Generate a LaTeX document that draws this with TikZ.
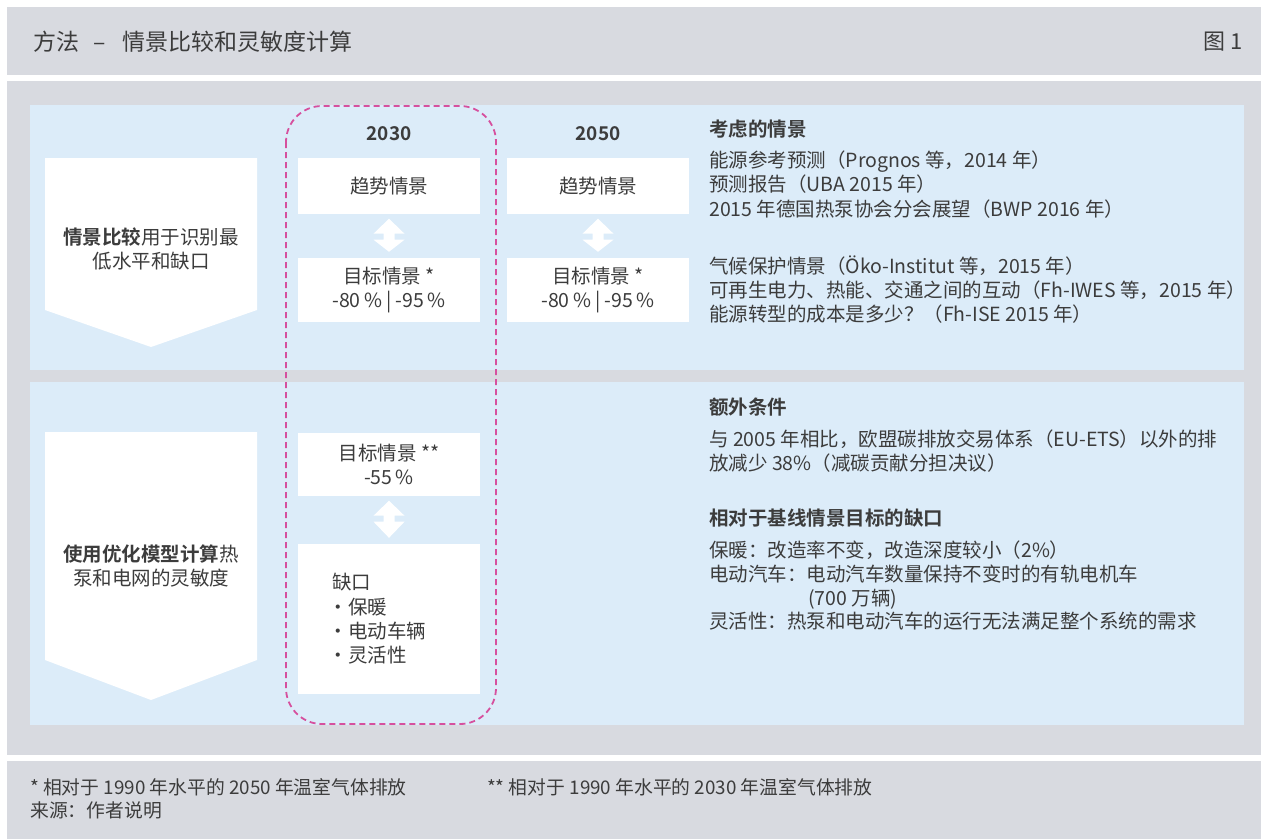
\documentclass[tikz,border=0pt]{standalone}
\usepackage{fontspec}
\setmainfont{Noto Sans CJK SC}[BoldFont={Noto Sans CJK SC Bold}]
\usetikzlibrary{calc}
\definecolor{bggray}{RGB}{216,218,224}
\definecolor{lblue}{RGB}{220,236,249}
\definecolor{txtc}{RGB}{60,60,60}
\definecolor{dashc}{RGB}{214,80,158}
\tikzset{
  panel/.style={fill=lblue, draw=none},
  wbox/.style={fill=white, draw=none, minimum width=182pt, inner sep=0pt, align=center, text=txtc, font=\fontsize{19.5}{24}\selectfont},
  yearlab/.style={font=\fontsize{19}{22}\selectfont\bfseries, text=txtc, inner sep=0pt},
  txt/.style={anchor=west, inner sep=0pt, text=txtc, font=\fontsize{19.5}{23}\selectfont, text height=14pt, text depth=3.5pt},
  hd/.style={txt, font=\fontsize{19.5}{23}\selectfont\bfseries},
  foot/.style={anchor=west, inner sep=0pt, text=txtc, font=\fontsize{18.8}{22}\selectfont, text height=13.5pt, text depth=3.5pt},
  penta/.style={fill=white, draw=none},
  ptext/.style={align=center, inner sep=0pt, text=txtc, font=\fontsize{19.5}{24.5}\selectfont},
  dblarrow/.style={fill=white, draw=none},
}
\newcommand{\dbl}[2]{%
  \path let \p1=($(#1.south)+(0,4.5)$), \p2=($(#2.north)-(0,6)$) in
    [dblarrow] (\x1,\y1) -- (\x1+15.5,\y1-15) -- (\x1+5.5,\y1-15) -- (\x1+5.5,\y1-21) -- (\x1+15.5,\y1-21)
    -- (\x2,\y2) -- (\x1-15.5,\y1-21) -- (\x1-5.5,\y1-21) -- (\x1-5.5,\y1-15) -- (\x1-15.5,\y1-15) -- cycle;}
\begin{document}
\begin{tikzpicture}[x=1pt,y=-1pt]
\useasboundingbox (0,0) rectangle (1261,839);
\fill[white] (0,0) rectangle (1261,839);
% header
\fill[bggray] (7,7) rectangle (1261,75);
\node[anchor=west, inner sep=0pt, text=txtc, font=\fontsize{23}{26}\selectfont] (title) at (33,42) {方法\hspace{14pt}–\hspace{17pt}情景比较和灵敏度计算};
\node[anchor=east, inner sep=0pt, text=txtc, font=\fontsize{22}{26}\selectfont] (fig) at (1243,42) {图 1};
% main
\fill[bggray] (7,81) rectangle (1261,755);
\fill[panel] (30,105) rectangle (1244,370);
\fill[panel] (30,382) rectangle (1244,725);
% pentagon arrows
\fill[penta] (45,158) -- (257,158) -- (257,310) -- (151,347) -- (45,310) -- cycle;
\fill[penta] (45,432) -- (257,432) -- (257,660) -- (151,700) -- (45,660) -- cycle;
\node[ptext] (a1) at (151,249) {\textbf{情景比较}用于识别最\\低水平和缺口};
\node[ptext] (a2) at (151,566) {\textbf{使用优化模型计算}热\\泵和电网的灵敏度};
% dashed frame
\draw[dashc, line width=1.8pt, dash pattern=on 6pt off 4pt, rounded corners=36pt] (286,106) rectangle (496,724);
% years
\node[yearlab] (y30) at (389,134) {2030};
\node[yearlab] (y50) at (598,134) {2050};
% boxes
\node[wbox, minimum height=56pt] (b1) at (389,186) {趋势情景};
\node[wbox, minimum height=64pt] (b2) at (389,290) {目标情景 *\\-80\,\% | -95\,\%};
\node[wbox, minimum height=56pt] (c1) at (598,186) {趋势情景};
\node[wbox, minimum height=64pt] (c2) at (598,290) {目标情景 *\\-80\,\% | -95\,\%};
\node[wbox, minimum height=63pt] (b3) at (389,464.5) {目标情景 **\\-55\,\%};
\node[wbox, minimum height=150pt] (b4) at (389,619) {};
\node[anchor=west, align=left, inner sep=0pt, text=txtc, font=\fontsize{19.5}{24.3}\selectfont] (gap) at (328,619)
 {\hspace{4pt}缺口\\\makebox[20pt][l]{·}保暖\\\makebox[20pt][l]{·}电动车辆\\\makebox[20pt][l]{·}灵活性};
\dbl{b1}{b2}
\dbl{c1}{c2}
\dbl{b3}{b4}
% right text upper
\node[hd] (h1) at (709,131) {考虑的情景};
\node[txt] (r1) at (709,162) {能源参考预测（Prognos 等，2014 年）};
\node[txt] (r2) at (709,186) {预测报告（UBA 2015 年）};
\node[txt] (r3) at (709,211) {2015 年德国热泵协会分会展望（BWP 2016 年）};
\node[txt] (r4) at (709,268) {气候保护情景（Öko-Institut 等，2015 年）};
\node[txt] (r5) at (709,292) {可再生电力、热能、交通之间的互动（Fh-IWES 等，2015 年）};
\node[txt] (r6) at (709,316) {能源转型的成本是多少？（Fh-ISE 2015 年）};
% right text lower
\node[hd] (h2) at (709,409) {额外条件};
\node[txt] (s1) at (709,441) {与 2005 年相比，欧盟碳排放交易体系（EU-ETS）以外的排};
\node[txt] (s2) at (709,465) {放减少 38\%（减碳贡献分担决议）};
\node[hd] (h3) at (709,520) {相对于基线情景目标的缺口};
\node[txt] (s3) at (709,552) {保暖：改造率不变，改造深度较小（2\%）};
\node[txt] (s4) at (709,576) {电动汽车：电动汽车数量保持不变时的有轨电机车};
\node[txt] (s5) at (808,600) {(700 万辆)};
\node[txt] (s6) at (709,623) {灵活性：热泵和电动汽车的运行无法满足整个系统的需求};
% footer
\fill[bggray] (7,761) rectangle (1261,839);
\node[foot] (f1) at (30,789) {* 相对于 1990 年水平的 2050 年温室气体排放};
\node[foot] (f2) at (30,812) {来源：作者说明};
\node[foot] (f3) at (487,789) {** 相对于 1990 年水平的 2030 年温室气体排放};
\end{tikzpicture}
\end{document}
